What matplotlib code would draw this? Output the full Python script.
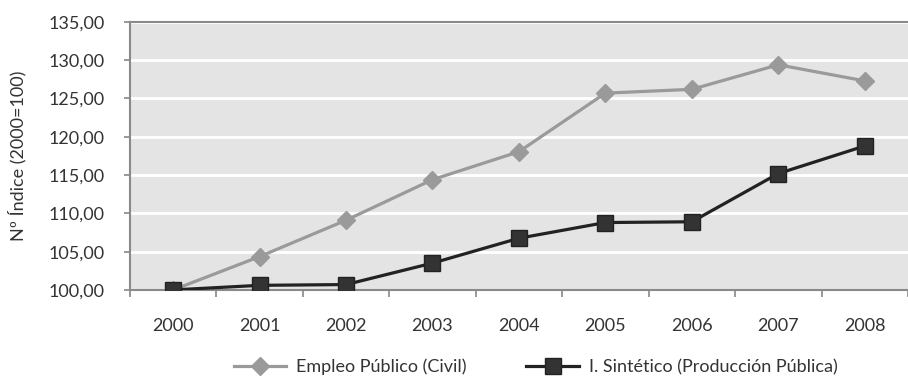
import matplotlib.pyplot as plt
from matplotlib.ticker import FuncFormatter, FixedLocator
from matplotlib.lines import Line2D

years = ['2000', '2001', '2002', '2003', '2004', '2005', '2006', '2007', '2008']
empleo_publico = [100.0, 104.35, 109.1, 114.4, 118.05, 125.7, 126.2, 129.4, 127.3]
sintetico = [100.0, 100.6, 100.7, 103.5, 106.75, 108.8, 108.9, 115.2, 118.8]
y_ticks = [100, 105, 110, 115, 120, 125, 130, 135]

plt.rcParams['font.family'] = ['Lato', 'DejaVu Sans']

fig = plt.figure(figsize=(9.08, 3.78), dpi=100)
ax = fig.add_axes([0.143, 0.233, 0.857, 0.709])
ax.set_facecolor('#e4e4e4')

x = list(range(len(years)))
ax.plot(x, empleo_publico, color='#9a9a9a', lw=2.3, marker='D', ms=9,
        mfc='#9a9a9a', mec='#9a9a9a', label='Empleo Público (Civil)', zorder=3)
ax.plot(x, sintetico, color='#222222', lw=2.3, marker='s', ms=11,
        mfc='#333333', mec='#222222', label='I. Sintético (Producción Pública)', zorder=4)

ax.set_xlim(-0.5, len(years) - 0.5)
ax.set_ylim(100, 135)
ax.set_yticks(y_ticks)
ax.yaxis.set_major_formatter(FuncFormatter(lambda v, p: f'{v:.2f}'.replace('.', ',')))
ax.grid(axis='y', color='white', lw=2)
ax.set_axisbelow(True)

ax.set_xticks(x)
ax.set_xticklabels(years)
ax.xaxis.set_minor_locator(FixedLocator([i + 0.5 for i in range(-1, len(years))]))
ax.tick_params(axis='x', which='major', length=0, pad=20, labelsize=13, labelcolor='#333333')
ax.tick_params(axis='x', which='minor', length=5, color='#888888', width=1.2)
ax.tick_params(axis='y', length=4, color='#888888', width=1.2, pad=14,
               labelsize=13, labelcolor='#333333')

for side in ['left', 'bottom', 'top']:
    ax.spines[side].set_color('#8a8a8a')
    ax.spines[side].set_linewidth(1.5)
ax.spines['right'].set_visible(False)

ax.set_ylabel('Nº Índice (2000=100)', fontsize=13, color='#333333')
ax.yaxis.set_label_coords(-0.133, 0.5)

handles = [
    Line2D([], [], color='#9a9a9a', lw=2.3, marker='D', ms=9, mfc='#9a9a9a', mec='#9a9a9a'),
    Line2D([], [], color='#222222', lw=2.3, marker='s', ms=11, mfc='#333333', mec='#222222'),
]
fig.legend(handles, ['Empleo Público (Civil)', 'I. Sintético (Producción Pública)'],
           loc='center', bbox_to_anchor=(0.59, 0.029), ncol=2, frameon=False,
           fontsize=13, handlelength=2.9, handletextpad=0.55, columnspacing=3.3,
           labelcolor='#333333')

fig.savefig('out.png', dpi=100)
